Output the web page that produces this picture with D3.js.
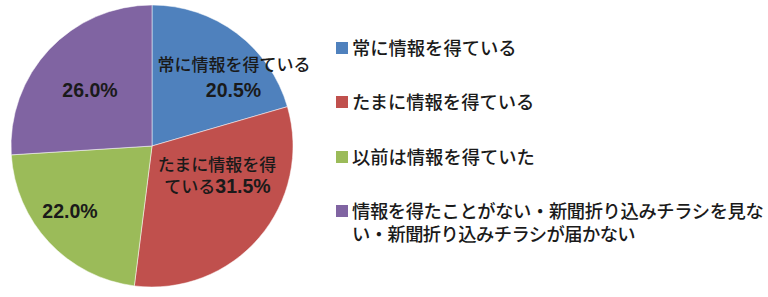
<!DOCTYPE html>
<html><head><meta charset="utf-8">
<script src="https://cdn.jsdelivr.net/npm/d3@7/dist/d3.min.js"></script>
<style>body{margin:0;background:#fff}svg{display:block}</style>
</head><body>
<svg id="c" width="768" height="297"></svg>
<script>
const categories = ["常に情報を得ている","たまに情報を得ている","以前は情報を得ていた","情報を得たことがない・新聞折り込みチラシを見ない・新聞折り込みチラシが届かない"];
const values = [20.5, 31.5, 22.0, 26.0];
const colors = ["#4F81BD","#C0504D","#9BBB59","#8064A2"];
const legendLines = [["常に情報を得ている"],["たまに情報を得ている"],["以前は情報を得ていた"],["情報を得たことがない・新聞折り込みチラシを見な","い・新聞折り込みチラシが届かない"]];
const sliceLabels = [["常に情報を得ている","20.5%"],["たまに情報を得","ている31.5%"],["22.0%"],["26.0%"]];

const svg = d3.select("#c");
const font = "'Liberation Sans', 'Noto Sans CJK JP', sans-serif";
const numFont = "'Liberation Sans', sans-serif";
const cx = 152, cy = 146, r = 141;
const pie = d3.pie().sort(null).value(d => d)(values);
const arc = d3.arc().innerRadius(0).outerRadius(r);
const g = svg.append("g").attr("transform", `translate(${cx},${cy})`);
g.selectAll("path").data(pie).enter().append("path")
  .attr("d", arc).attr("fill", (d,i) => colors[i]).attr("stroke", "#fff").attr("stroke-width", 0.5);

// label positions (relative to center), per slice
const labelPos = [[[82,-75],[81.5,-49]],[[65,25],[65.5,47]],[[-82,72]],[[-62,-49]]];
sliceLabels.forEach((lines, i) => {
  lines.forEach((t, j) => {
    const p = labelPos[i][j];
    let txt = g.append("text").attr("x", p[0]).attr("y", p[1]).attr("text-anchor", "middle")
      .attr("font-family", font).attr("font-size", 17).attr("fill", "#1a1a1a");
    const m = t.match(/^(.*?)([\d.]+%)?$/);
    if (m[1]) txt.append("tspan").attr("font-weight", 500).text(m[1]);
    if (m[2]) txt.append("tspan").attr("font-weight", "bold").attr("font-family", numFont).attr("font-size", 19.5).text(m[2]);
  });
});

// legend
const rowsY = [48, 102, 157, 211];
const fs = 18.3;
const lg = svg.append("g");
categories.forEach((c, i) => {
  lg.append("rect").attr("x", 336).attr("y", rowsY[i] - 6).attr("width", 12).attr("height", 12).attr("fill", colors[i]);
  legendLines[i].forEach((t, j) => {
    const txt = lg.append("text").attr("x", 352).attr("y", rowsY[i] + 7 + j * 23)
      .attr("font-family", font).attr("font-size", fs).attr("font-weight", 500).attr("fill", "#1a1a1a")
      .text(t);
    // the reference renders "・" narrow; fit lines containing it to the reference width
    const nDots = (t.match(/・/g) || []).length;
    if (nDots) txt.attr("textLength", (t.length - nDots * 0.5) * fs).attr("lengthAdjust", "spacing");
  });
});
</script>
</body></html>
